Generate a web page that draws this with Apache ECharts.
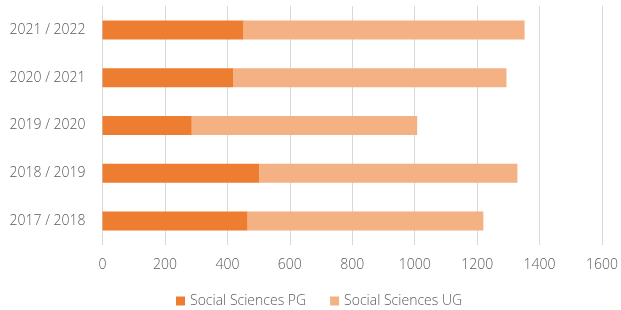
<!DOCTYPE html>
<html>
<head>
<meta charset="utf-8">
<script src="https://cdn.jsdelivr.net/npm/echarts@6/dist/echarts.min.js"></script>
<style>
  html, body { margin: 0; padding: 0; background: #fff; }
  #chart { width: 621px; height: 310px; }
</style>
</head>
<body>
<div id="chart"></div>
<script>
// bottom to top, as drawn on the category axis
const years = ['2017 / 2018', '2018 / 2019', '2019 / 2020', '2020 / 2021', '2021 / 2022']
const pgValues = [465, 503, 286, 418, 452]
const ugValues = [755, 826, 722, 876, 900]
const xTicks = [0, 200, 400, 600, 800, 1000, 1200, 1400, 1600]

const textColor = '#5a5a5a'
const font = 'Open Sans'

const chart = echarts.init(document.getElementById('chart'))
chart.setOption({
  animation: false,
  grid: {
    left: 102.5,
    right: 17.5,
    top: 6,
    bottom: 65
  },
  legend: {
    bottom: -3,
    left: 171,
    itemWidth: 9,
    itemHeight: 9,
    itemGap: 24,
    icon: 'rect',
    textStyle: { color: textColor, fontSize: 14, fontWeight: 300, fontFamily: font },
    data: ['Social Sciences PG', 'Social Sciences UG']
  },
  xAxis: {
    type: 'value',
    min: xTicks[0],
    max: xTicks[xTicks.length - 1],
    interval: 200,
    axisLine: { show: false },
    axisTick: { show: false },
    splitLine: { lineStyle: { color: '#d9d9d9', width: 1 } },
    axisLabel: {
      color: textColor, fontSize: 14, fontWeight: 300, fontFamily: font, margin: 13,
      formatter: v => String(v)
    }
  },
  yAxis: {
    type: 'category',
    data: years,
    axisLine: { show: false },
    axisTick: { show: false },
    axisLabel: { color: textColor, fontSize: 14, fontWeight: 300, fontFamily: font, margin: 17 }
  },
  series: [
    {
      name: 'Social Sciences PG',
      type: 'bar',
      stack: 'total',
      barWidth: 19,
      itemStyle: { color: '#ED7D31' },
      data: pgValues
    },
    {
      name: 'Social Sciences UG',
      type: 'bar',
      stack: 'total',
      barWidth: 19,
      itemStyle: { color: '#F4B183' },
      data: ugValues
    }
  ]
})
</script>
</body>
</html>
